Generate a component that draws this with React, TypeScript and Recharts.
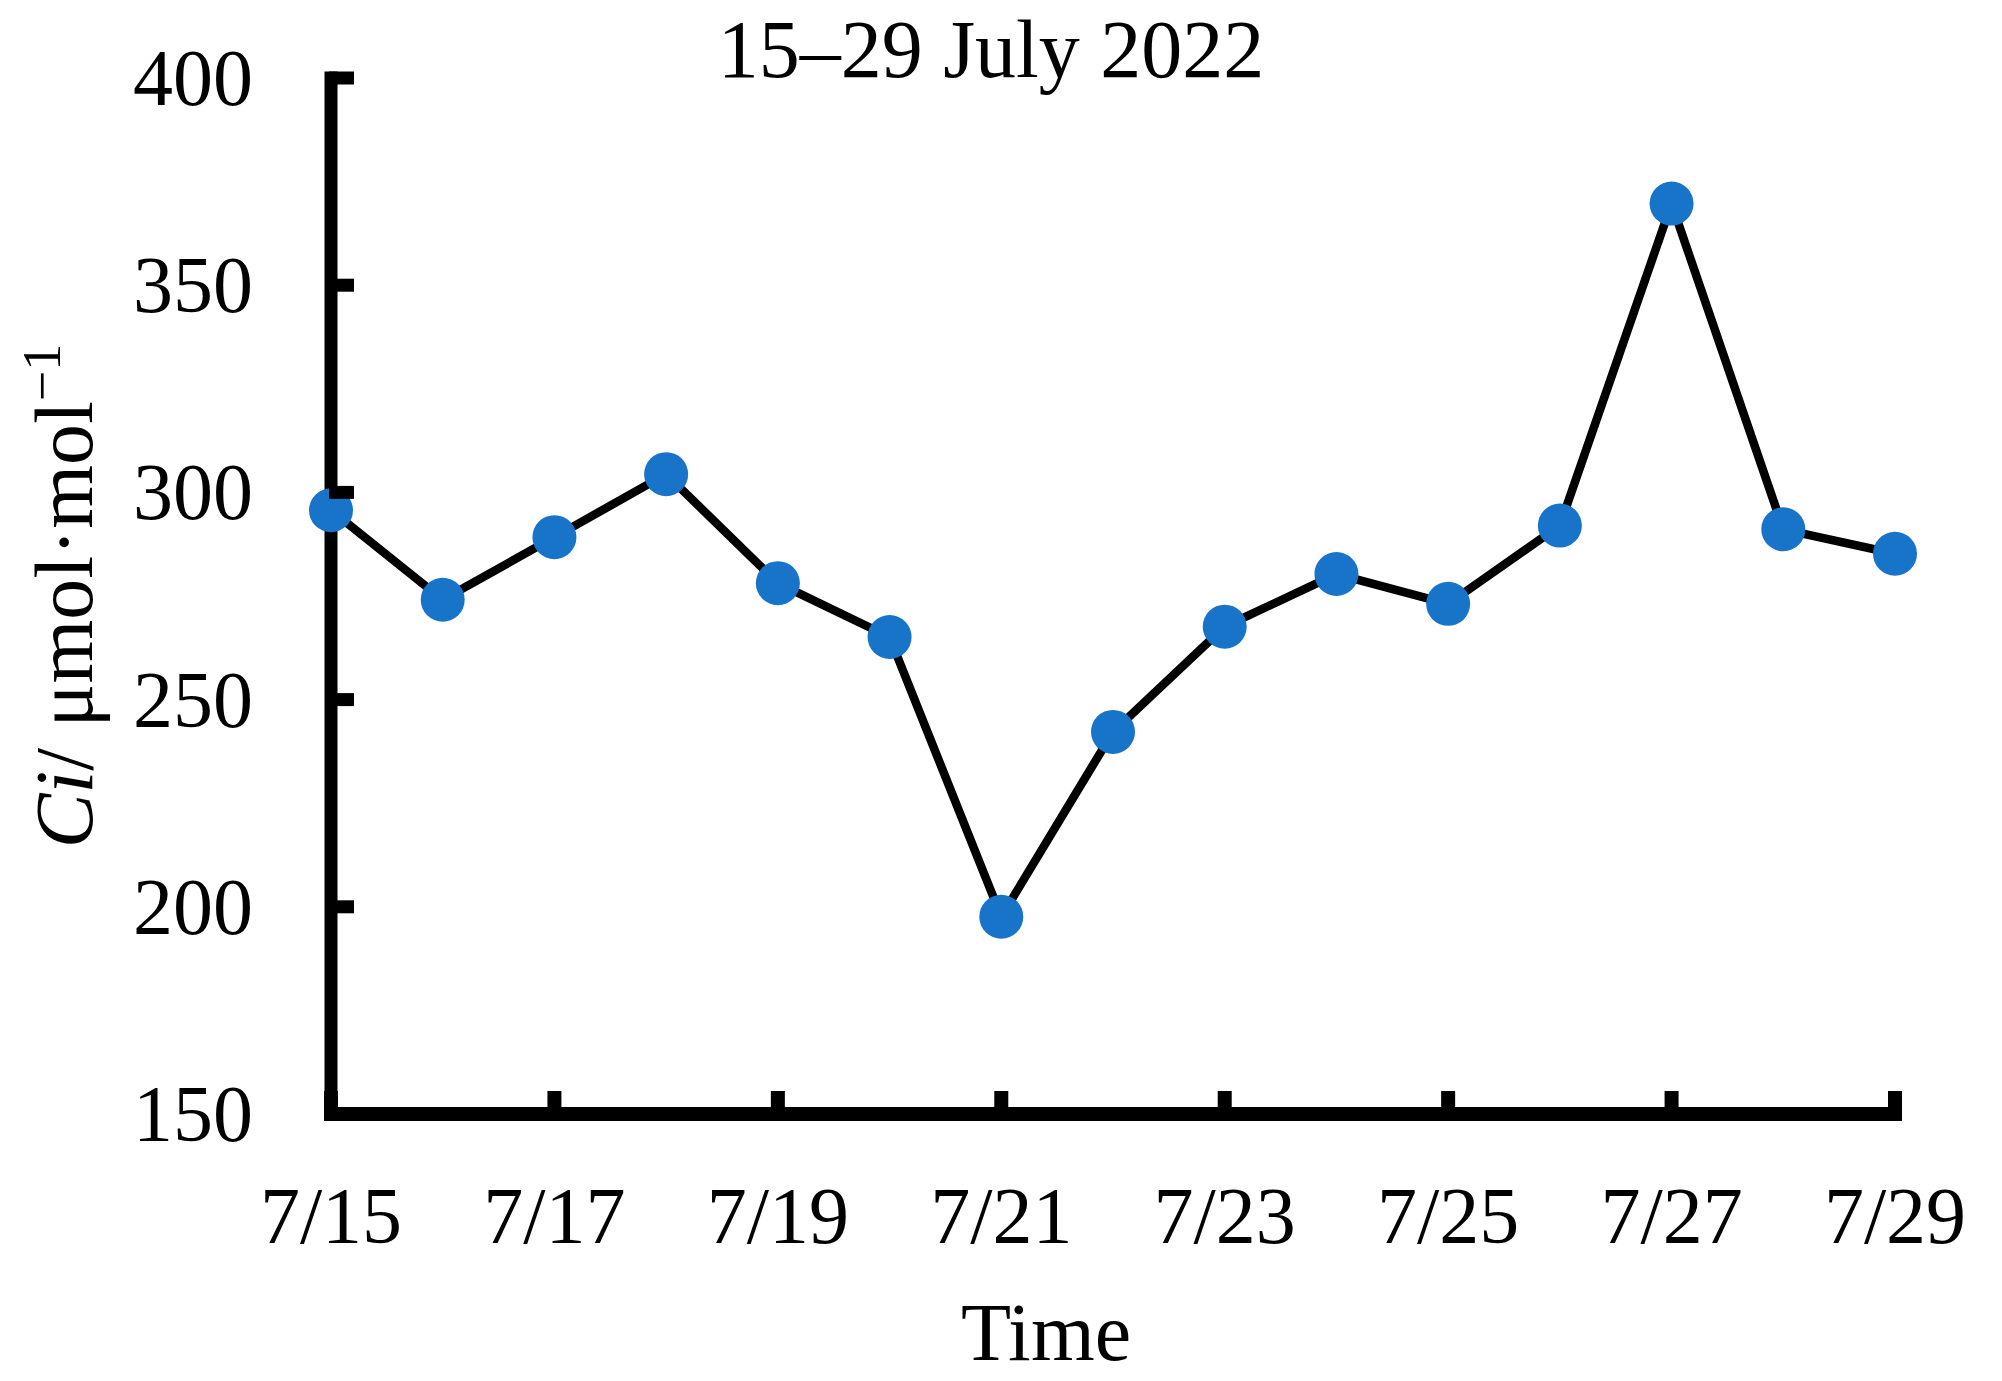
import { Line, LineChart, XAxis, YAxis } from "recharts";

document.body.style.margin = "0";

const days = [15, 16, 17, 18, 19, 20, 21, 22, 23, 24, 25, 26, 27, 28, 29];
const ciValues = [295.7, 274.1, 289.2, 304.4, 278.1, 265.1, 197.6, 242.2, 267.6, 280.3, 273.1, 292.0, 369.7, 291.1, 285.2];
const xTicks = [15, 17, 19, 21, 23, 25, 27, 29];
const yTicks = [150, 200, 250, 300, 350, 400];

const data = days.map((day, i) => ({ day, ci: ciValues[i] }));

const font = '"Liberation Serif", "Times New Roman", serif';
const blue = "#1874c8";

function XTick({ x, y, payload }: any) {
  return (
    <g>
      <line x1={x} x2={x} y1={y} y2={y - 25} stroke="#000" strokeWidth={14} />
      <text x={x} y={y + 127} textAnchor="middle" fontFamily={font} fontSize={80} fill="#000">
        {`7/${payload.value}`}
      </text>
    </g>
  );
}

function YTick({ x, y, payload }: any) {
  return (
    <g>
      <line x1={x} x2={x + 25} y1={y} y2={y} stroke="#000" strokeWidth={13} />
      <text x={x - 76} y={y + 27} textAnchor="end" fontFamily={font} fontSize={80} fill="#000">
        {payload.value}
      </text>
    </g>
  );
}

export default function App() {
  return (
    <div style={{ width: 2002, height: 1381, background: "#fff" }}>
      <LineChart width={2002} height={1381} data={data} margin={{ top: 78, right: 107, left: 0, bottom: 0 }}>
        <XAxis
          dataKey="day"
          type="number"
          domain={[15, 29]}
          ticks={xTicks}
          height={267}
          tickSize={0}
          tickLine={false}
          tick={<XTick />}
          axisLine={{ stroke: "#000", strokeWidth: 14, strokeLinecap: "square" }}
        />
        <YAxis
          type="number"
          domain={[150, 400]}
          ticks={yTicks}
          width={331}
          tickSize={0}
          tickLine={false}
          tick={<YTick />}
          axisLine={{ stroke: "#000", strokeWidth: 13, strokeLinecap: "square" }}
        />
        <Line
          dataKey="ci"
          stroke="#000"
          strokeWidth={8.5}
          dot={{ r: 22, fill: blue, stroke: "none" }}
          activeDot={false}
          isAnimationActive={false}
        />
        <text x={991} y={77} textAnchor="middle" fontFamily={font} fontSize={82} fill="#000">
          15–29 July 2022
        </text>
        <text x={1046} y={1360} textAnchor="middle" fontFamily={font} fontSize={82} fill="#000">
          Time
        </text>
        <text
          x={92}
          y={596}
          textAnchor="middle"
          transform="rotate(-90, 92, 596)"
          fontFamily={font}
          fontSize={82}
          fill="#000"
        >
          <tspan fontStyle="italic">Ci</tspan>
          <tspan>/ μmol·mol</tspan>
          <tspan dy={-32} fontSize={54}>−1</tspan>
        </text>
      </LineChart>
    </div>
  );
}
